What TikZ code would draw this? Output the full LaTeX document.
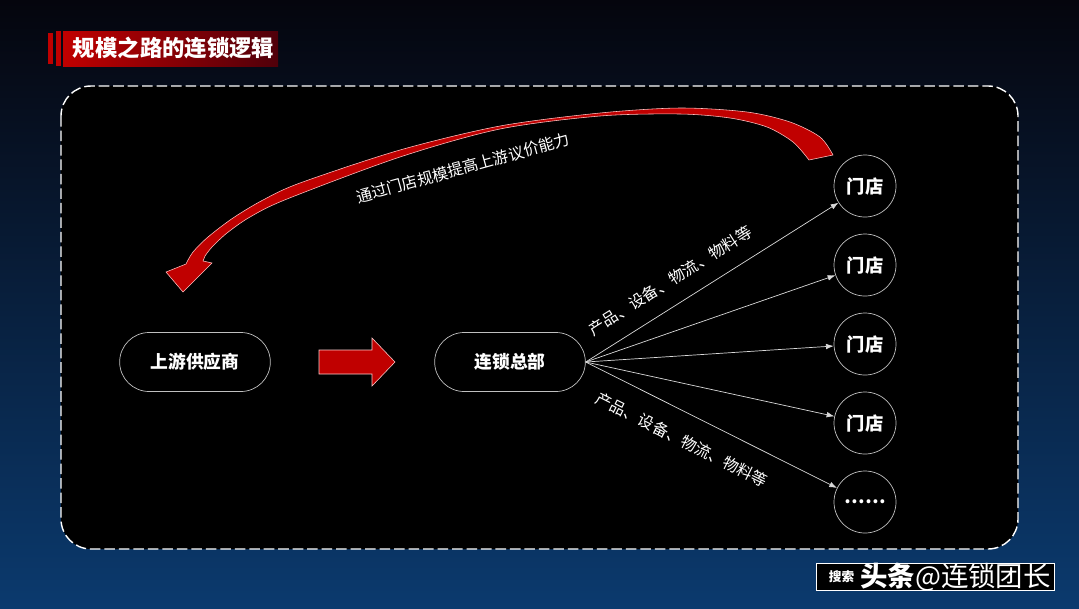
\documentclass[tikz,border=0pt]{standalone}
\usepackage{fontspec}
\setmainfont{Noto Sans CJK SC}
\usetikzlibrary{shapes.misc,arrows.meta}
\definecolor{bgtop}{HTML}{05050D}
\definecolor{bgmid}{HTML}{050B22}
\definecolor{bgbot}{HTML}{0B3A6E}
\definecolor{deepred}{HTML}{C00000}
\definecolor{darkred}{HTML}{50000A}
\definecolor{edgegray}{HTML}{BFBFBF}
\tikzset{
  pill/.style={draw=edgegray, line width=0.5pt, rounded rectangle, minimum width=4cm, minimum height=1.475cm, text=white, font=\bfseries\fontsize{12.6}{14}\selectfont},
  shop/.style={draw=edgegray, line width=0.5pt, circle, minimum size=1.55cm, text=white, font=\bfseries\fontsize{13}{15}\selectfont},
  feed/.style={->, draw=white!85!black, line width=0.5pt},
  tag/.style={text=white, font=\fontsize{11.2}{13}\selectfont}
}
\begin{document}
\begin{tikzpicture}[x=0.025cm, y=-0.025cm, >={Latex[length=5.5pt,width=4pt]}]

\useasboundingbox (0,0) rectangle (1079,608);
\shade[top color=bgtop, middle color=bgmid, bottom color=bgbot] (0,0) rectangle (1079,608);

\fill[deepred] (48,33) rectangle (53,64);
\fill[deepred] (56,31) rectangle (61,66);
\shade[left color=deepred, right color=darkred] (63,31) rectangle (278,66);
\node[anchor=west, text=white, font=\bfseries\fontsize{15.9}{18}\selectfont] (title) at (68,48) {规模之路的连锁逻辑};

\draw[white, line width=1pt, dash pattern=on 7.5pt off 2.8pt, fill=black, rounded corners=0.75cm] (61,86) rectangle (1018,549);

\node[pill] (supplier) at (195,362) {上游供应商};
\node[pill] (hq) at (510,362) {连锁总部};

\foreach \i/\y in {1/186,2/265,3/344,4/423}
  \node[shop] (s\i) at (865,\y) {门店};
\node[shop] (s5) at (865,502) {……};

\draw[feed] (hq.east) -- node[tag, sloped, above=8pt, pos=0.385] {产品、设备、物流、物料等} (s1);
\foreach \i in {2,3,4}
  \draw[feed] (hq.east) -- (s\i);
\draw[feed] (hq.east) -- node[tag, sloped, below=10pt, pos=0.43] {产品、设备、物流、物料等} (s5);

\filldraw[fill=deepred, draw=red!20!white, line width=0.4pt] (319,350) -- (372,350) -- (372,338) -- (395,362) -- (372,386) -- (372,374) -- (319,374) -- cycle;

\filldraw[fill=deepred, draw=red!25!white, line width=0.4pt]
  plot[smooth] coordinates {(833,155) (820,137) (790,122) (747,112) (680,108) (600,113) (500,126) (400,150) (300,183) (263,200) (233,218) (208,237) (193,252) (186,264)}
  -- (166,272) -- (183,292) -- (212,263) -- (203,261)
  -- plot[smooth] coordinates {(205,256) (212,247) (227,233) (250,217) (287,199) (400,157) (500,129) (600,116) (680,114) (730,118) (767,127) (793,142) (809,160)}
  -- cycle;
\node[tag, rotate=15.5] (gain) at (463,168) {通过门店规模提高上游议价能力};

\node[draw=white, fill=black, line width=0.8pt, minimum width=5.95cm, minimum height=0.675cm, anchor=north west, inner sep=0] (mark) at (816,563) {};
\node[anchor=west, text=white, font=\bfseries\fontsize{9}{10}\selectfont] at ([xshift=0.2cm]mark.west) {搜索};
\node[anchor=west, text=white, font=\fontsize{19.5}{22}\selectfont, inner sep=0] at ([xshift=1.1cm]mark.west) {\textbf{头条}@连锁团长};

\end{tikzpicture}
\end{document}
